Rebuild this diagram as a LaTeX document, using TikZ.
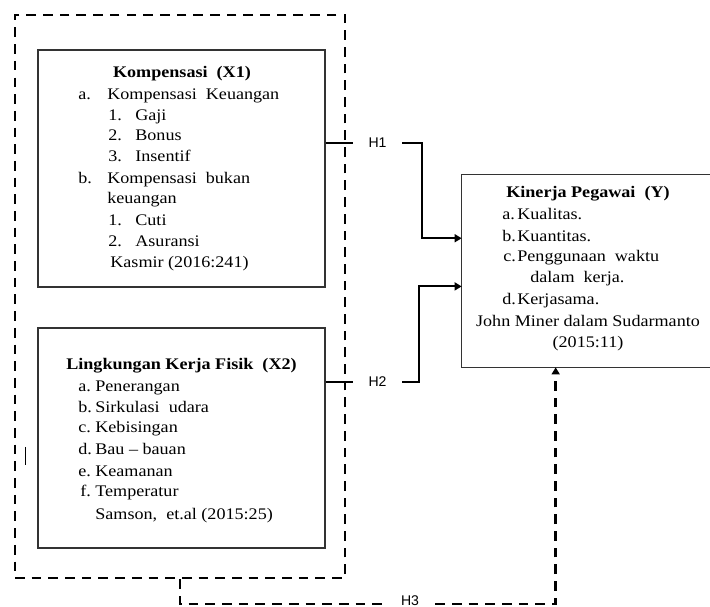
\documentclass[tikz,border=0pt]{standalone}
\usepackage{fontspec}
\setmainfont{Liberation Serif}[FakeStretch=1.12]
\newfontfamily\hfont{Liberation Sans}
\usetikzlibrary{arrows.meta}
\usetikzlibrary{calc}
\newcommand{\lbl}[2]{\makebox[#1][l]{#2}}
\tikzset{box/.style={draw=black!80,line width=0.7pt,inner sep=0pt},
	openbox/.style={inner sep=0pt},
	boxline/.style={draw=black!80,line width=0.7pt},
	outerbox/.style={draw,line width=1.6pt,dash pattern=on 5.5pt off 4pt,inner sep=0pt},
	txt/.style={inner sep=0pt,anchor=base west,font=\fontsize{9.2}{11}\selectfont},
	ctxt/.style={txt,anchor=base},
	hlabel/.style={inner sep=0pt,minimum width=0.98cm,font=\hfont\fontsize{8}{9}\selectfont},
	link/.style={line width=1.1pt},
	hdash/.style={line width=1.6pt,dash pattern=on 5.5pt off 4pt}}
\begin{document}
\begin{tikzpicture}[x=0.02cm,y=-0.02cm,>={Triangle[length=4pt,width=4.5pt]}]
	\useasboundingbox (0,0) rectangle (710,607);
	\clip (0,0) rectangle (710,607);
	% boxes
	\node[outerbox,minimum width=6.6cm,minimum height=11.26cm] (xbox) at (180,296.5) {};
	\node[box,minimum width=5.74cm,minimum height=4.74cm] (k1) at (181.5,168.5) {};
	\node[box,minimum width=5.74cm,minimum height=4.4cm] (k2) at (181.5,438) {};
	\node[openbox,minimum width=6cm,minimum height=3.84cm] (ky) at (612,271) {};
	\draw[boxline] (ky.north east) -- (ky.north west) -- (ky.south west) -- (ky.south east);
	% Kompensasi
	\node[ctxt] (k1t) at (182,78) {\textbf{Kompensasi~~(X1)}};
	\node[txt] (k1a) at (78,100) {\lbl{0.58cm}{a.}Kompensasi~~Keuangan};
	\node[txt] (k1a1) at (108,121) {\lbl{0.54cm}{1.}Gaji};
	\node[txt] (k1a2) at (108,141) {\lbl{0.54cm}{2.}Bonus};
	\node[txt] (k1a3) at (108,162) {\lbl{0.54cm}{3.}Insentif};
	\node[txt] (k1b) at (78,184) {\lbl{0.58cm}{b.}Kompensasi~~bukan};
	\node[txt] (k1b0) at (107,204) {keuangan};
	\node[txt] (k1b1) at (108,226) {\lbl{0.54cm}{1.}Cuti};
	\node[txt] (k1b2) at (108,247) {\lbl{0.54cm}{2.}Asuransi};
	\node[txt] (k1s) at (110,268) {Kasmir (2016:241)};
	% Lingkungan kerja
	\node[ctxt] (k2t) at (181.5,370) {\textbf{Lingkungan Kerja Fisik~~(X2)}};
	\node[txt] (k2a) at (78,392) {\lbl{0.34cm}{a.}Penerangan};
	\node[txt] (k2b) at (78,413) {\lbl{0.34cm}{b.}Sirkulasi~~udara};
	\node[txt] (k2c) at (78,433) {\lbl{0.34cm}{c.}Kebisingan};
	\node[txt] (k2d) at (78,455) {\lbl{0.34cm}{d.}Bau -- bauan};
	\node[txt] (k2e) at (78,477) {\lbl{0.34cm}{e.}Keamanan};
	\node[txt] (k2f) at (80,497) {\lbl{0.3cm}{f.}Temperatur};
	\node[txt] (k2s) at (95,520) {Samson,~ et.al (2015:25)};
	% Kinerja
	\node[ctxt] (kyt) at (588,198) {\textbf{Kinerja Pegawai~~(Y)}};
	\node[txt] (kya) at (502,220) {\lbl{0.3cm}{a.}Kualitas.};
	\node[txt] (kyb) at (502,242) {\lbl{0.3cm}{b.}Kuantitas.};
	\node[txt] (kyc) at (503,262) {\lbl{0.28cm}{c.}Penggunaan~~waktu};
	\node[txt] (kyc0) at (530,283) {dalam~~kerja.};
	\node[txt] (kyd) at (502,305) {\lbl{0.3cm}{d.}Kerjasama.};
	\node[ctxt] (kys) at (588,327) {John Miner dalam Sudarmanto};
	\node[ctxt] (kys2) at (588,348) {(2015:11)};
	% hipotesis
	\node[hlabel] (h1) at (377.5,143) {H1};
	\node[hlabel] (h2) at (377.5,382) {H2};
	\node[hlabel,minimum width=1cm] (h3) at (410,601) {H3};
	\coordinate (y1) at ($(ky.north west)!0.33!(ky.south west)$);
	\coordinate (y2) at ($(ky.north west)!0.58!(ky.south west)$);
	\coordinate (y3) at ($(ky.south west)+(94,0)$);
	\draw[link] (k1.east |- h1) -- (h1.west);
	\draw[link,->] (h1.east) -- ++(20,0) |- (y1);
	\draw[link] (k2.east |- h2) -- (h2.west);
	\draw[link,->] (h2.east) -- ++(17,0) |- (y2);
	\draw[hdash] (xbox.south) |- ($(h3.west)+(0,3)$);
	\draw[hdash,->] ($(h3.east)+(0,3)$) -| (y3);
	\draw[line width=0.5pt] (25,447) -- (25,465);
\end{tikzpicture}
\end{document}
